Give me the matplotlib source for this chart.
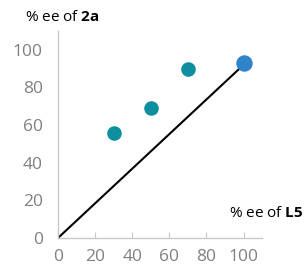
import matplotlib
matplotlib.use("Agg")
import matplotlib.pyplot as plt

# data
ee_L5 = [30, 50, 70]
ee_2a = [56, 69, 90]
ref_x = [100]
ref_y = [93]
line_x = [0, 100]
line_y = [0, 92]

plt.rcParams['font.family'] = ['Open Sans', 'DejaVu Sans']
plt.rcParams['mathtext.fontset'] = 'custom'
plt.rcParams['mathtext.rm'] = 'Open Sans'
plt.rcParams['mathtext.bf'] = 'Open Sans:bold'

fig = plt.figure(figsize=(3.08, 2.69), dpi=100)
ax = fig.add_axes([0.188, 0.115, 0.663, 0.77])

ax.plot(line_x, line_y, color='black', linewidth=1.5, zorder=2)
ax.scatter(ee_L5, ee_2a, s=110, color='#0e8e9e', linewidths=0, zorder=3)
ax.scatter(ref_x, ref_y, s=140, color='#2f84c9', linewidths=0, zorder=3)

ax.set_xlim(0, 110)
ax.set_ylim(0, 110)
ax.set_xticks([0, 20, 40, 60, 80, 100])
ax.set_yticks([0, 20, 40, 60, 80, 100])

gray = '#808080'
for side in ['top', 'right']:
    ax.spines[side].set_visible(False)
for side in ['left', 'bottom']:
    ax.spines[side].set_color('#c8c8c8')
    ax.spines[side].set_linewidth(1.0)
ax.tick_params(axis='x', direction='in', length=4, color='#c8c8c8',
               labelcolor=gray, labelsize=12.5, pad=8)
ax.tick_params(axis='y', length=0, labelcolor=gray, labelsize=12.5, pad=11)

fig.text(0.082, 0.935, r'% ee of $\mathbf{2a}$', fontsize=11, color='black',
         va='center', ha='left')
fig.text(0.745, 0.208, r'% ee of $\mathbf{L5}$', fontsize=11, color='black',
         va='center', ha='left')

fig.savefig('out.png', dpi=100)
